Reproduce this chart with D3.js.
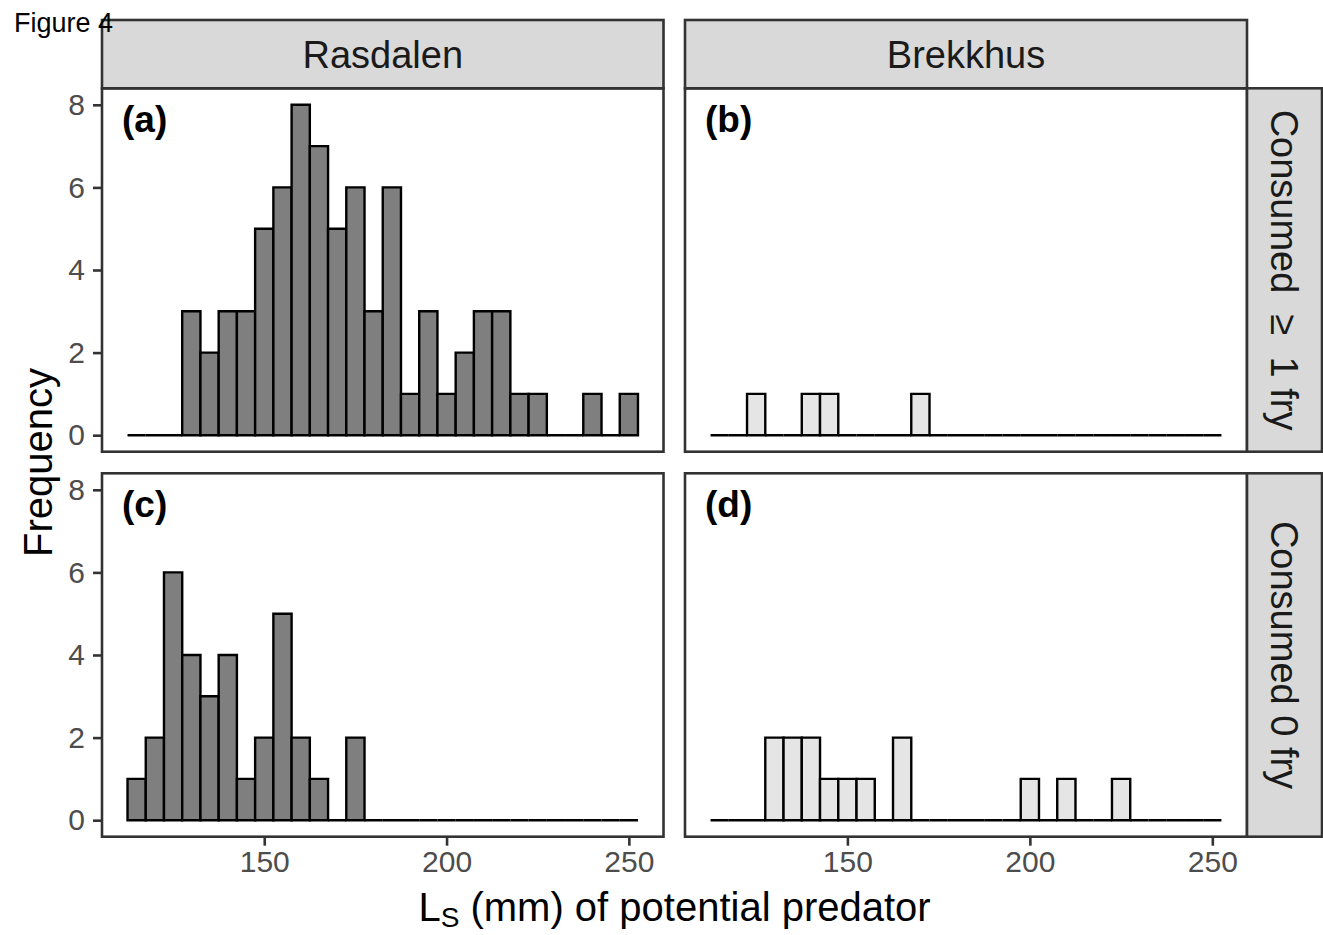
<!DOCTYPE html>
<html><head><meta charset="utf-8">
<script src="https://cdn.jsdelivr.net/npm/d3@7"></script>
<style>body{margin:0;background:#fff}svg{display:block}text{font-family:"Liberation Sans",Arial,sans-serif}</style>
</head><body>
<svg id="c" width="1323" height="935"></svg>
<script>
// ---- data ----
const binCenters = [115,120,125,130,135,140,145,150,155,160,165,170,175,180,185,190,195,200,205,210,215,220,225,230,235,240,245,250];
const binWidth = 5;
const rasdalenConsumed = [0,0,0,3,2,3,3,5,6,8,7,5,6,3,6,1,3,1,2,3,3,1,1,0,0,1,0,1];
const rasdalenZero     = [1,2,6,4,3,4,1,2,5,2,1,0,2,0,0,0,0,0,0,0,0,0,0,0,0,0,0,0];
const brekkhusConsumed = [0,0,1,0,0,1,1,0,0,0,0,1,0,0,0,0,0,0,0,0,0,0,0,0,0,0,0,0];
const brekkhusZero     = [0,0,0,2,2,2,1,1,1,0,2,0,0,0,0,0,0,1,0,1,0,0,1,0,0,0,0,0];
const columns = ["Rasdalen","Brekkhus"];
const rows = ["Consumed  \u2265  1 fry","Consumed 0 fry"];
const panelLabels = ["(a)","(b)","(c)","(d)"];
const xTicks = [150,200,250];
const yTicks = [0,2,4,6,8];

// ---- layout ----
const svg = d3.select("#c");
const colX = [[102,663.5],[685,1247]];
const rowY = [[88.3,451.7],[473.3,836.7]];
const stripTop = 20, stripRight = 1322;
const fills = ["#7F7F7F","#E5E5E5"];
const grey20 = "#333333";
const series = [[rasdalenConsumed, brekkhusConsumed],[rasdalenZero, brekkhusZero]];

for (let r=0;r<2;r++){
  for (let c=0;c<2;c++){
    const [x0,x1]=colX[c],[y0,y1]=rowY[r];
    const x = d3.scaleLinear().domain([105.5,259.5]).range([x0,x1]);
    const y = d3.scaleLinear().domain([-0.4,8.4]).range([y1,y0]);
    const g = svg.append("g");
    g.append("rect").attr("x",x0).attr("y",y0).attr("width",x1-x0).attr("height",y1-y0).attr("fill","#fff");
    const vals = series[r][c];
    g.selectAll("path.bar").data(binCenters).join("path").attr("class","bar")
      .attr("d",(d,i)=>{
        const a=x(d-binWidth/2), b=x(d+binWidth/2), t=y(vals[i]), z=y(0);
        return `M${a},${z}V${t}H${b}V${z}Z`;
      })
      .attr("fill",fills[c]).attr("stroke","#000").attr("stroke-width",2.4).attr("stroke-linejoin","miter");
    g.append("rect").attr("x",x0).attr("y",y0).attr("width",x1-x0).attr("height",y1-y0)
      .attr("fill","none").attr("stroke",grey20).attr("stroke-width",2.6);
    g.append("text").attr("x",x0+20).attr("y",y0+44).attr("font-size",37).attr("font-weight","bold").attr("fill","#000").text(panelLabels[r*2+c]);
    if (c===0){
      const ax = svg.append("g").attr("transform",`translate(${x0},0)`)
        .call(d3.axisLeft(y).tickValues(yTicks).tickSize(9).tickPadding(8).tickFormat(d3.format("d")));
      ax.select(".domain").remove();
      ax.selectAll("line").attr("stroke",grey20).attr("stroke-width",2.6);
      ax.selectAll("text").attr("font-size",30).attr("fill","#4D4D4D").attr("font-family","Liberation Sans, Arial, sans-serif");
    }
    if (r===1){
      const ax = svg.append("g").attr("transform",`translate(0,${y1})`)
        .call(d3.axisBottom(x).tickValues(xTicks).tickSize(9).tickPadding(5).tickFormat(d3.format("d")));
      ax.select(".domain").remove();
      ax.selectAll("line").attr("stroke",grey20).attr("stroke-width",2.6);
      ax.selectAll("text").attr("font-size",30).attr("fill","#4D4D4D").attr("font-family","Liberation Sans, Arial, sans-serif");
    }
  }
}
// top strips
columns.forEach((name,c)=>{
  const [x0,x1]=colX[c];
  svg.append("rect").attr("x",x0).attr("y",stripTop).attr("width",x1-x0).attr("height",rowY[0][0]-stripTop)
    .attr("fill","#D9D9D9").attr("stroke",grey20).attr("stroke-width",2.6);
  svg.append("text").attr("x",(x0+x1)/2).attr("y",(stripTop+rowY[0][0])/2).attr("dy","0.36em")
    .attr("text-anchor","middle").attr("font-size",38).attr("fill","#1A1A1A").text(name);
});
// right strips
rows.forEach((name,r)=>{
  const [y0,y1]=rowY[r];
  const sx0 = colX[1][1];
  svg.append("rect").attr("x",sx0).attr("y",y0).attr("width",stripRight-sx0).attr("height",y1-y0)
    .attr("fill","#D9D9D9").attr("stroke",grey20).attr("stroke-width",2.6);
  const cx=(sx0+stripRight)/2, cy=(y0+y1)/2;
  svg.append("text").attr("transform",`translate(${cx},${cy}) rotate(90)`).attr("dy","0.36em")
    .style("white-space","pre")
    .attr("text-anchor","middle").attr("font-size",38).attr("fill","#1A1A1A").text(name);
});
svg.append("text").attr("x",14).attr("y",32).attr("font-size",27).attr("fill","#000").text("Figure 4");
// axis titles
svg.append("text").attr("transform",`translate(38,${(rowY[0][0]+rowY[1][1])/2}) rotate(-90)`).attr("dy","0.36em")
  .attr("text-anchor","middle").attr("font-size",40).attr("fill","#000").text("Frequency");
const xt = svg.append("text").attr("x",(colX[0][0]+colX[1][1])/2).attr("y",921)
  .attr("text-anchor","middle").attr("font-size",40).attr("fill","#000");
xt.append("tspan").text("L");
xt.append("tspan").attr("font-size",28).attr("dy",6).text("S");
xt.append("tspan").attr("dy",-6).text(" (mm) of potential predator");
</script>
</body></html>
